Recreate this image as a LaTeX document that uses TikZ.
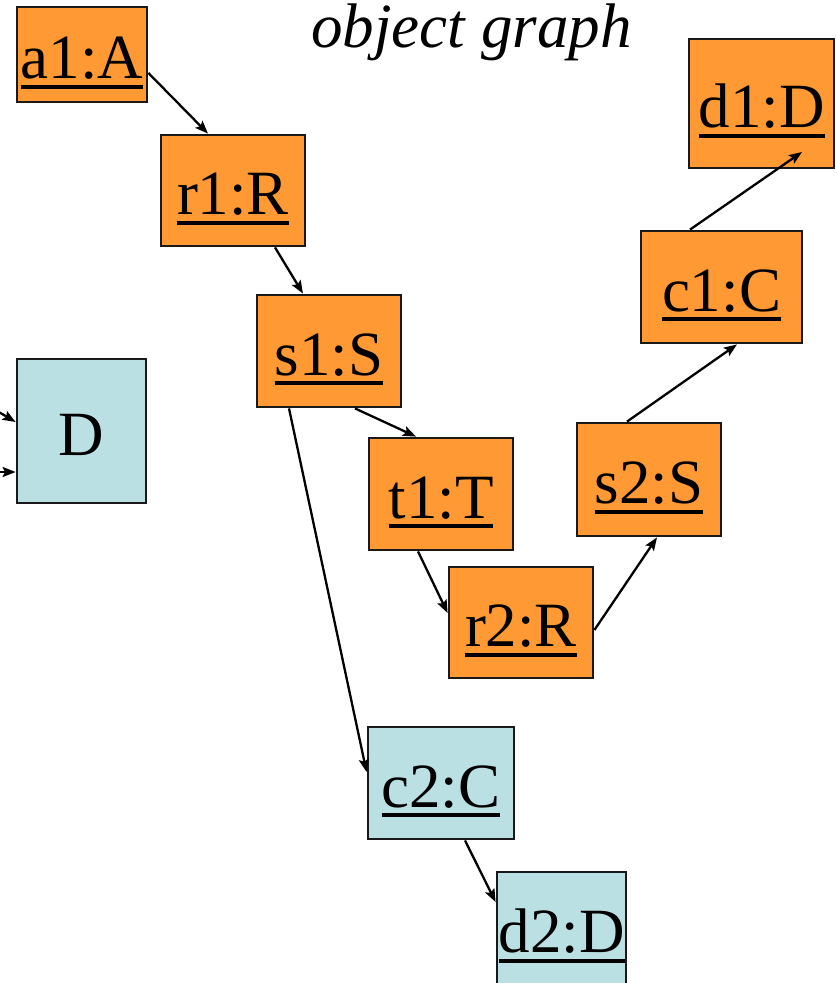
\documentclass[tikz,border=0pt]{standalone}
\usepackage{fontspec}
\setmainfont{Liberation Serif}
\usetikzlibrary{arrows.meta}
\definecolor{objorange}{HTML}{FF9933}
\definecolor{objblue}{HTML}{BBE0E3}
\newcommand{\objul}[1]{\setbox0\hbox{#1}\rlap{\copy0}\rule[-10pt]{\wd0}{4pt}}
\tikzset{
  objbox/.style={draw=black!90, line width=2.8pt, rectangle, inner sep=0pt,
    text height=60pt, text depth=12pt,
    font=\fontsize{63}{70}\selectfont},
  objo/.style={objbox, fill=objorange},
  objb/.style={objbox, fill=objblue},
  link/.style={line width=2.3pt, -{Stealth[length=13pt,width=10pt,inset=2.5pt]}}
}
\begin{document}
\begin{tikzpicture}[x=1pt,y=-1pt]
\useasboundingbox (0,0) rectangle (837,983);
\clip (0,0) rectangle (837,983);
\node[anchor=base, inner sep=0pt, font=\fontsize{63}{70}\selectfont\itshape] (title) at (471.5,47) {object graph};
\node[objo, minimum width=130pt, minimum height=95pt] (a1) at (82,54.5) {\makebox[0pt]{\objul{a1:A}}};
\node[objo, minimum width=144pt, minimum height=111pt] (r1) at (233,190.5) {\makebox[0pt]{\objul{r1:R}}};
\node[objo, minimum width=144pt, minimum height=112pt] (s1) at (329,351) {\makebox[0pt]{\objul{s1:S}}};
\node[objo, minimum width=144pt, minimum height=112pt] (t1) at (441,494) {\makebox[0pt]{\objul{t1:T}}};
\node[objo, minimum width=144pt, minimum height=111pt] (r2) at (521,622.5) {\makebox[0pt]{\objul{r2:R}}};
\node[objo, minimum width=144pt, minimum height=113pt] (s2) at (649,479.5) {\makebox[0pt]{\objul{s2:S}}};
\node[objo, minimum width=161pt, minimum height=112pt] (c1) at (721.5,287) {\makebox[0pt]{\objul{c1:C}}};
\node[objo, minimum width=145pt, minimum height=129pt] (d1) at (761.5,103.5) {\makebox[0pt]{\objul{d1:D}}};
\node[objb, minimum width=129pt, minimum height=144pt] (D) at (81.5,431) {\makebox[0pt]{D}};
\node[objb, minimum width=146pt, minimum height=112pt] (c2) at (441,783) {\makebox[0pt]{\objul{c2:C}}};
\node[objb, minimum width=129pt, minimum height=113pt] (d2) at (561.5,928.5) {\makebox[0pt]{\objul{d2:D}}};
\coordinate (in1) at (-2,411.5);
\coordinate (in2) at (-2,472);
\draw[link] ([shift={(0,18.5)}]a1.east) -- ([shift={(-25,0)}]r1.north);
\draw[link] ([shift={(42,0)}]r1.south) -- ([shift={(-26,0)}]s1.north);
\draw[link] ([shift={(26,0)}]s1.south) -- ([shift={(-25,0)}]t1.north);
\draw[link] ([shift={(-23,0)}]t1.south) -- ([shift={(0,-9.5)}]r2.west);
\draw[link] ([shift={(0,7.5)}]r2.east) -- ([shift={(8,0)}]s2.south);
\draw[link] ([shift={(-22,0)}]s2.north) -- ([shift={(15.5,0)}]c1.south);
\draw[link] ([shift={(-31.5,0)}]c1.north) -- ([shift={(40.5,48.5)}]d1.center);
\draw[link] ([shift={(-40,0)}]s1.south) -- ([shift={(0,-11)}]c2.west);
\draw[link] ([shift={(24,0)}]c2.south) -- ([shift={(0,-26.5)}]d2.west);
\draw[link] (in1) -- ([shift={(0,-9)}]D.west);
\draw[link] (in2) -- ([shift={(0,41)}]D.west);
\end{tikzpicture}
\end{document}
